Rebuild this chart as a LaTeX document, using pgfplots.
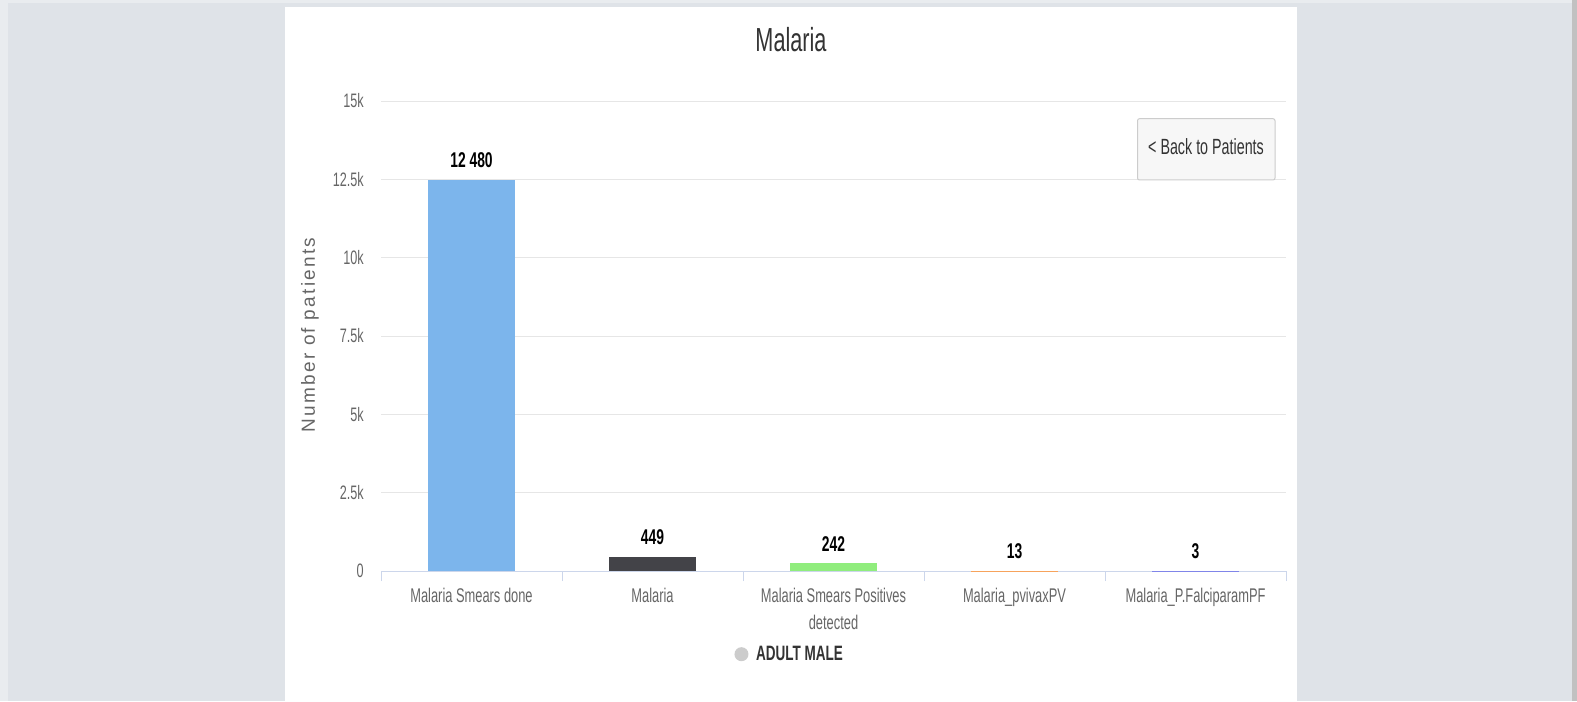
\documentclass[border=0pt]{standalone}
\usepackage{pgfplots}
\pgfplotsset{compat=1.18}
\usepackage{fontspec}
\setmainfont[FakeStretch=0.65]{Liberation Sans}
\newfontfamily\ylabfont[LetterSpace=12]{Liberation Sans}
\definecolor{bg}{HTML}{DFE3E8}
\definecolor{bglight}{HTML}{E9ECEF}
\definecolor{scroll}{HTML}{C1C1C1}
\definecolor{titlec}{HTML}{333333}
\definecolor{labc}{HTML}{666666}
\definecolor{gridc}{HTML}{E6E6E6}
\definecolor{axisc}{HTML}{CCD6EB}
\definecolor{btnfill}{HTML}{F7F7F7}
\definecolor{btndraw}{HTML}{CCCCCC}
\definecolor{legc}{HTML}{CCCCCC}
\definecolor{c1}{HTML}{7CB5EC}
\definecolor{c2}{HTML}{434348}
\definecolor{c3}{HTML}{90ED7D}
\definecolor{c4}{HTML}{F7A35C}
\definecolor{c5}{HTML}{8085E9}
\begin{document}
\begin{tikzpicture}
\begin{scope}[x=0.75pt,y=0.75pt]
\fill[bg] (0,0) rectangle (1577,701);
\fill[bglight] (0,0) rectangle (8,701);
\fill[bglight] (0,698) rectangle (1577,701);
\fill[white] (285,0) rectangle (1297,694);
\fill[scroll] (1572,0) rectangle (1577,701);
\node[font=\fontsize{25pt}{30pt}\selectfont, text=titlec] at (791,661) {Malaria};
\node[font=\ylabfont\fontsize{14.25pt}{17pt}\selectfont, text=labc, rotate=90] at (310,366) {Number of patients};
\end{scope}
\begin{axis}[
  at={(285.75pt,97.5pt)}, anchor=south west, scale only axis,
  width=678.75pt, height=352.5pt,
  xmin=-0.5, xmax=4.5, ymin=0, ymax=15000,
  scaled y ticks=false,
  ybar, bar width=65.25pt,
  axis x line*=bottom, axis y line*=left,
  x axis line style={draw=axisc, line width=0.75pt, -},
  y axis line style={draw=none, -},
  ytick={0,2500,5000,7500,10000,12500,15000},
  yticklabels={0,2.5k,5k,7.5k,10k,12.5k,15k},
  ymajorgrids, grid style={draw=gridc, line width=0.75pt},
  major tick length=0pt,
  xtick={0,1,2,3,4},
  xticklabels={Malaria Smears done, Malaria, {Malaria Smears Positives\\detected}, Malaria\_pvivaxPV, Malaria\_P.FalciparamPF},
  xticklabel style={anchor=north, inner sep=0pt, yshift=-13pt, align=center, text=labc, font=\fontsize{14.85pt}{19.9pt}\selectfont},
  yticklabel style={anchor=east, inner sep=0pt, xshift=-12.75pt, text=labc, font=\fontsize{14.6pt}{17pt}\selectfont},
  /pgf/number format/assume math mode=true,
  extra x ticks={-0.5,0.5,1.5,2.5,3.5,4.5},
  extra x tick labels={},
  extra x tick style={major tick length=7.5pt, tick align=outside, tick style={draw=axisc, line width=0.75pt}, grid=none},
  point meta=explicit symbolic,
  nodes near coords,
  nodes near coords style={anchor=south, inner sep=0pt, yshift=9pt, font=\bfseries\fontsize{16pt}{19pt}\selectfont, text=black},
  legend style={at={(0.452,-0.177)}, anchor=center, draw=none, fill=none, font=\bfseries\fontsize{15.6pt}{18pt}\selectfont, text=titlec, inner sep=0pt},
  clip=false,
]
\addplot[fill=c1, draw=none, bar shift=0pt, forget plot] coordinates {(0,12480) [12 480]};
\addplot[fill=c2, draw=none, bar shift=0pt, forget plot] coordinates {(1,449) [449]};
\addplot[fill=c3, draw=none, bar shift=0pt, forget plot] coordinates {(2,242) [242]};
\addplot[fill=c4, draw=none, bar shift=0pt, forget plot] coordinates {(3,13) [13]};
\addplot[fill=c5, draw=none, bar shift=0pt, forget plot] coordinates {(4,3) [3]};
\addlegendimage{legend image code/.code={\fill[legc, draw=none] (0.2cm,0) circle (5.25pt); \path[draw=none, fill=none] (0.2cm+9pt,0) circle (0pt);}}
\addlegendentry{ADULT MALE}
\end{axis}
\begin{scope}[x=0.75pt,y=0.75pt]
\draw[btndraw, fill=btnfill, rounded corners=1.5pt, line width=0.75pt] (1137.5,521) rectangle (1275,582.3);
\node[font=\fontsize{16.5pt}{19pt}\selectfont, text=titlec] at (1206,554.5) {< Back to Patients};
\end{scope}
\end{tikzpicture}
\end{document}
